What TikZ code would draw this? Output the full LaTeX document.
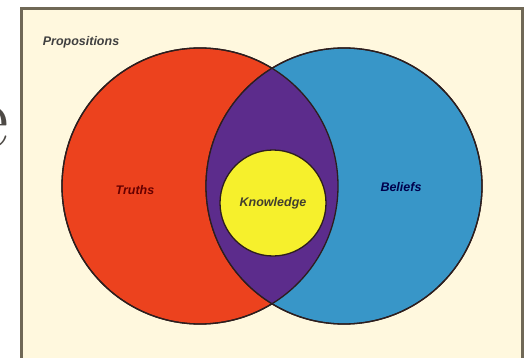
\documentclass[tikz,border=0pt]{standalone}
\usepackage{fontspec}
\setsansfont{Liberation Sans}
\usepackage{xcolor}
\usepackage{tikz}
\usetikzlibrary{positioning}

\definecolor{bgbeige}{RGB}{255,248,222}
\definecolor{framegray}{RGB}{112,104,86}
\definecolor{truthred}{RGB}{236,66,30}
\definecolor{beliefblue}{RGB}{56,150,200}
\definecolor{lenspurple}{RGB}{92,44,140}
\definecolor{knowyellow}{RGB}{246,240,44}
\definecolor{edgedark}{RGB}{45,30,30}
\definecolor{egray}{RGB}{78,74,70}

\begin{document}
\begin{tikzpicture}[
						x=1pt, y=-1pt,
						venn/.style={
							circle, draw=edgedark, line width=1.3pt,
							minimum size=276pt, inner sep=0pt
						},
						set_outline/.style={
							draw=edgedark, line width=1.3pt
						},
						set_label/.style={
							font=\sffamily\bfseries\itshape\fontsize{12.5}{14}\selectfont
						}
						]
						\useasboundingbox (0,0) rectangle (529,358);
						\fill[white] (0,0) rectangle (529,358);
						
						% === Cut-off letter on the left ===
						\node[font=\fontsize{92}{92}\selectfont, text=egray, anchor=base east, inner sep=0pt] (cutletter) at (9,148) {e};
						
						% === Frame ===
						\draw[framegray, line width=3pt, fill=bgbeige] (21,9) rectangle (522,372);
						\node[set_label, font=\sffamily\bfseries\itshape\fontsize{12.5}{14}\selectfont, text=black!75] (props) at (81,42) {Propositions};
						
						% === Truths / Beliefs ===
						\node[venn, fill=truthred] (truths) at (200,186) {};
						\node[venn, fill=beliefblue] (beliefs) at (344,186) {};
						
						% Lens (overlap)
						\begin{scope}
							\clip (truths.center) circle (138pt);
							\fill[lenspurple] (beliefs.center) circle (138pt);
						\end{scope}
						\draw[set_outline] (truths.center) circle (138pt);
						\draw[set_outline] (beliefs.center) circle (138pt);
						
						% === Knowledge ===
						\node[venn, fill=knowyellow, minimum size=106pt, set_label, text=black!70!olive] (knowledge) at (273,203) {Knowledge};
						
						% Set labels
						\node[set_label, text=red!40!black] (truths_text) at (135,190) {Truths};
						\node[set_label, text=blue!30!black] (beliefs_text) at (401,187) {Beliefs};
						
					\end{tikzpicture}
\end{document}
